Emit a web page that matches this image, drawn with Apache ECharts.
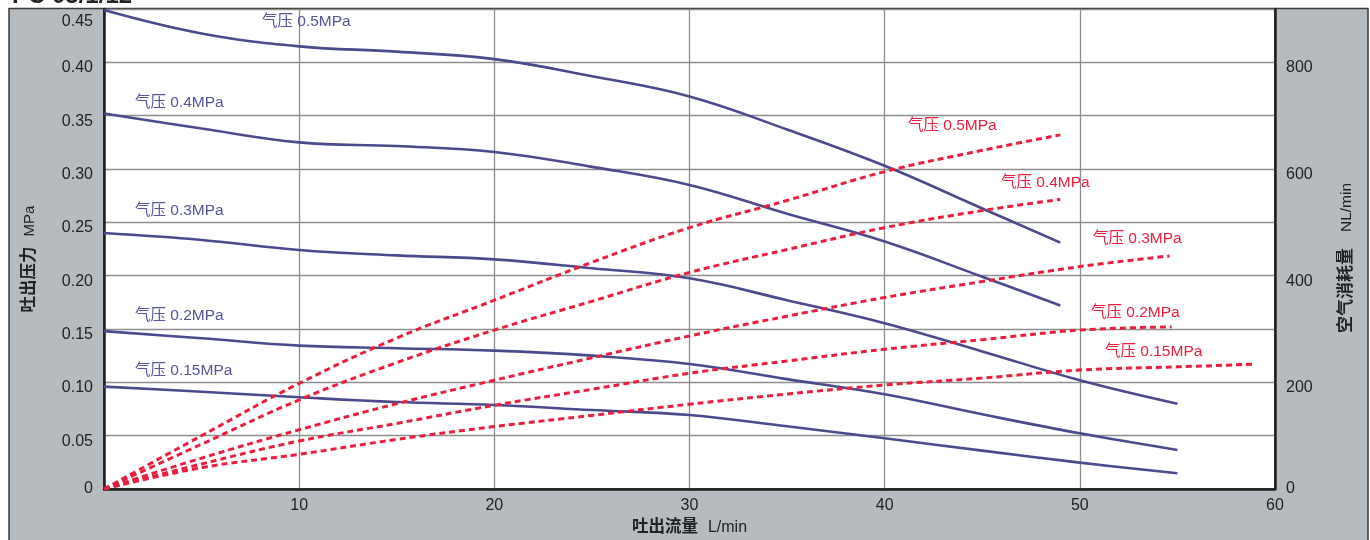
<!DOCTYPE html>
<html>
<head>
<meta charset="utf-8">
<script src="https://cdn.jsdelivr.net/npm/echarts@6/dist/echarts.min.js"></script>
<style>
html,body{margin:0;padding:0;background:#fff;}
#main{width:1370px;height:540px;}
</style>
</head>
<body>
<div id="main"></div>
<script>
// ---- data ----
var flowA = [0, 5, 10, 15, 20, 25, 30, 35, 40, 45, 49];
var flowB = [0, 5, 10, 15, 20, 25, 30, 35, 40, 45, 50, 55];
var outP05 = [0.449, 0.427, 0.415, 0.41, 0.403, 0.387, 0.368, 0.337, 0.303, 0.263, 0.231];
var outP04 = [0.352, 0.338, 0.325, 0.3215, 0.316, 0.302, 0.285, 0.258, 0.232, 0.199, 0.172];
var outP03 = [0.240, 0.2335, 0.224, 0.219, 0.2153, 0.207, 0.1975, 0.177, 0.1555, 0.129, 0.102, 0.080];
var outP02 = [0.148, 0.1413, 0.1344, 0.132, 0.1297, 0.125, 0.1172, 0.103, 0.0888, 0.070, 0.0522, 0.0366];
var outP015 = [0.096, 0.0912, 0.086, 0.0815, 0.0788, 0.074, 0.0694, 0.0588, 0.0475, 0.036, 0.0247, 0.0147];

var airFlow05 = [0, 5, 10, 15, 20, 25, 30, 35, 40, 45, 49];
var air05 = [0, 100, 198, 283, 354, 425, 490, 541, 595, 635, 664];
var airFlow04 = [0, 5, 10, 15, 20, 25, 30, 35, 40, 45, 49];
var air04 = [0, 84, 167, 237, 298, 352, 406, 449, 490, 522, 543];
var airFlow03 = [0, 5, 10, 15, 20, 25, 30, 35, 40, 45, 50, 54.6];
var air03 = [0, 58, 111, 160, 204, 246, 287, 324, 359, 389, 417, 437];
var airFlow02 = [0, 5, 10, 15, 20, 25, 30, 35, 40, 45, 50, 54.7];
var air02 = [0, 47, 90, 123, 157, 187, 217, 240, 262, 280, 298, 304];
var airFlow015 = [0, 5, 10, 15, 20, 25, 30, 35, 40, 45, 50, 55, 58.9];
var air015 = [0, 40, 65, 93, 117, 138, 159, 178, 195, 208, 223, 229, 234];

var pressureNames = ['气压 0.5MPa', '气压 0.4MPa', '气压 0.3MPa', '气压 0.2MPa', '气压 0.15MPa'];
var xTitle = '吐出流量';
var xUnit = 'L/min';
var yLeftTitle = '吐出压力';
var yLeftUnit = 'MPa';
var yRightTitle = '空气消耗量';
var yRightUnit = 'NL/min';

// ---- styles ----
var FONT = "'Liberation Sans', 'Noto Sans CJK SC', sans-serif";
var BLUE = '#4b4a8c';
var BLUE_LABEL = '#56559c';
var RED = '#e8203e';
var PANEL = '#b5bbbe';

function zip(xs, ys) { return xs.map(function (x, i) { return [x, ys[i]]; }); }

function blueSeries(name, xs, ys) {
  return {
    name: name, type: 'line', yAxisIndex: 0, data: zip(xs, ys),
    showSymbol: false, symbol: 'none', smooth: 0.4,
    lineStyle: { color: BLUE, width: 2.6 }, z: 3, silent: true
  };
}
function redSeries(name, xs, ys) {
  return {
    name: name, type: 'line', yAxisIndex: 1, data: zip(xs, ys),
    showSymbol: false, symbol: 'none', smooth: 0.4,
    lineStyle: { color: RED, width: 3, type: [6, 4] }, z: 4, silent: true
  };
}

var chart = echarts.init(document.getElementById('main'), null, { renderer: 'canvas' });

function tickRich(color) {
  var base = { fontFamily: FONT, fontSize: 16, color: color };
  return {
    z: Object.assign({}, base),
    n: Object.assign({ padding: [11, 0, 0, 0] }, base),
    t: Object.assign({ padding: [25, 0, 0, 0] }, base)
  };
}

function lineLabel(text, x, y, color) {
  return {
    type: 'text', z: 50, silent: true,
    style: {
      x: x, y: y, text: text, fill: color,
      font: '15.5px ' + FONT,
      textVerticalAlign: 'middle', verticalAlign: 'middle', textAlign: 'left'
    }
  };
}

var option = {
  backgroundColor: '#ffffff',
  animation: false,
  grid: {
    left: 104, right: 95, top: 9, bottom: 51,
    show: true, backgroundColor: '#ffffff', borderColor: '#333', borderWidth: 2,
    containLabel: false, outerBoundsMode: 'none'
  },
  xAxis: {
    type: 'value', min: 0, max: 60, interval: 10,
    name: '{b|' + xTitle + '}{u|' + xUnit + '}',
    nameLocation: 'middle', nameGap: 25,
    nameTextStyle: {
      rich: {
        b: { fontFamily: FONT, fontSize: 16.5, fontWeight: 'bold', color: '#222', padding: [0, 10, 0, 0] },
        u: { fontFamily: FONT, fontSize: 16, color: '#222' }
      }
    },
    axisLine: { show: true, lineStyle: { color: '#222', width: 2.5 } },
    axisTick: { show: false },
    axisLabel: { showMinLabel: false, margin: 9, fontFamily: FONT, fontSize: 16, color: '#222' },
    splitLine: { show: true, lineStyle: { color: '#8e8e8e', width: 1.3 } }
  },
  yAxis: [
    {
      type: 'value', min: 0, max: 0.45, interval: 0.05, position: 'left',
      name: '{b|' + yLeftTitle + '}{u|' + yLeftUnit + '}',
      nameLocation: 'middle', nameGap: 66, nameRotate: 90,
      nameTextStyle: {
        rich: {
          b: { fontFamily: FONT, fontSize: 16.5, fontWeight: 'bold', color: '#222', padding: [0, 10, 0, 0] },
          u: { fontFamily: FONT, fontSize: 15, color: '#222', padding: [0, 20, 0, 0] }
        }
      },
      axisLine: { show: true, lineStyle: { color: '#222', width: 2.5 } },
      axisTick: { show: false },
      axisLabel: {
        margin: 11,
        formatter: function (v) {
          if (Math.abs(v) < 1e-9) return '{z|0}';
          if (Math.abs(v - 0.45) < 1e-9) return '{t|0.45}';
          return '{n|' + v.toFixed(2) + '}';
        },
        rich: tickRich('#222')
      },
      splitLine: { show: true, lineStyle: { color: '#8e8e8e', width: 1.3 } }
    },
    {
      type: 'value', min: 0, max: 900, interval: 100, position: 'right',
      name: '{b|' + yRightTitle + '}{u|' + yRightUnit + '}',
      nameLocation: 'middle', nameGap: 63, nameRotate: 90,
      nameTextStyle: {
        rich: {
          b: { fontFamily: FONT, fontSize: 17, fontWeight: 'bold', color: '#222', padding: [0, 16, 0, 0] },
          u: { fontFamily: FONT, fontSize: 15.5, color: '#222', padding: [0, 18, 0, 0] }
        }
      },
      axisLine: { show: true, lineStyle: { color: '#222', width: 2.5 } },
      axisTick: { show: false },
      axisLabel: {
        margin: 11,
        formatter: function (v) {
          if (Math.round(v) % 200 !== 0 || v > 800) return '';
          if (v === 0) return '{z|0}';
          return '{n|' + v + '}';
        },
        rich: tickRich('#222')
      },
      splitLine: { show: false }
    }
  ],
  graphic: {
    elements: [
      {
        type: 'rect', z: -10, silent: true,
        shape: { x: 9, y: 8.5, width: 1359, height: 560 },
        style: { fill: PANEL, stroke: '#3a3a3a', lineWidth: 1.5 }
      },
      {
        type: 'text', z: 50, silent: true,
        style: { x: 12, y: 8, text: 'PC 05/1/12', fill: '#222',
          font: 'bold 24px ' + FONT, textVerticalAlign: 'bottom', verticalAlign: 'bottom' }
      },
      lineLabel(pressureNames[0], 262, 21.7, BLUE_LABEL),
      lineLabel(pressureNames[1], 135, 102.7, BLUE_LABEL),
      lineLabel(pressureNames[2], 135, 210.7, BLUE_LABEL),
      lineLabel(pressureNames[3], 135, 315.7, BLUE_LABEL),
      lineLabel(pressureNames[4], 135, 370.7, BLUE_LABEL),
      lineLabel(pressureNames[0], 908, 126, RED),
      lineLabel(pressureNames[1], 1001, 182.7, RED),
      lineLabel(pressureNames[2], 1093, 238.7, RED),
      lineLabel(pressureNames[3], 1091, 312.7, RED),
      lineLabel(pressureNames[4], 1105, 351.7, RED)
    ]
  },
  series: [
    blueSeries('out05', flowA, outP05),
    blueSeries('out04', flowA, outP04),
    blueSeries('out03', flowB, outP03),
    blueSeries('out02', flowB, outP02),
    blueSeries('out015', flowB, outP015),
    redSeries('air05', airFlow05, air05),
    redSeries('air04', airFlow04, air04),
    redSeries('air03', airFlow03, air03),
    redSeries('air02', airFlow02, air02),
    redSeries('air015', airFlow015, air015)
  ]
};
chart.setOption(option);
</script>
</body>
</html>
